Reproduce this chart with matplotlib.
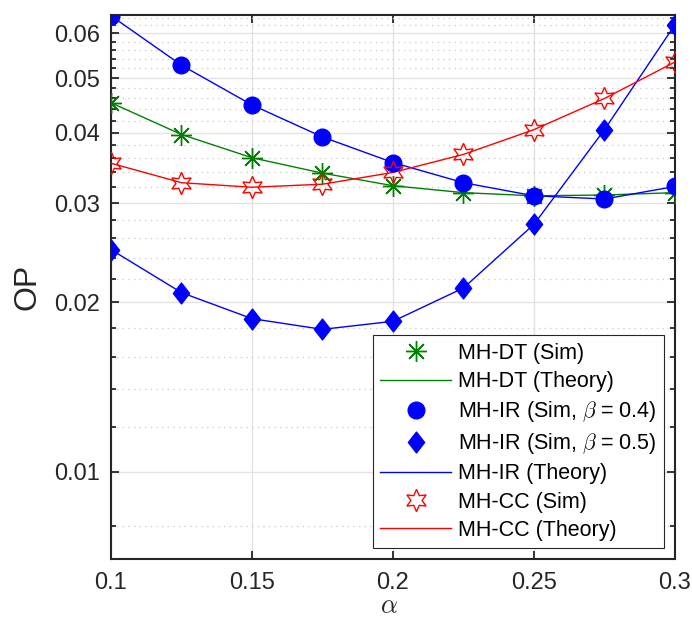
import numpy as np
import matplotlib.pyplot as plt
from matplotlib.path import Path
from matplotlib.ticker import FixedLocator, NullFormatter

plt.rcParams['font.family'] = ['Liberation Sans', 'DejaVu Sans']
plt.rcParams['mathtext.fontset'] = 'cm'

alpha = [0.1, 0.125, 0.15, 0.175, 0.2, 0.225, 0.25, 0.275, 0.3]

dt_sim = [0.0452, 0.0397, 0.0361, 0.0339, 0.0322, 0.0313, 0.0309, 0.0310, 0.0313]
dt_theory = [0.0452, 0.0397, 0.0361, 0.0339, 0.0322, 0.0313, 0.0309, 0.0310, 0.0313]

ir_sim_b04 = [0.0645, 0.0527, 0.0448, 0.0393, 0.0354, 0.0326, 0.0309, 0.0305, 0.0321]
ir_sim_b05 = [0.0248, 0.0208, 0.0187, 0.0179, 0.0185, 0.0212, 0.0275, 0.0405, 0.0622]
ir_theory_b04 = [0.0645, 0.0527, 0.0448, 0.0393, 0.0354, 0.0326, 0.0309, 0.0305, 0.0321]
ir_theory_b05 = [0.0248, 0.0208, 0.0187, 0.0179, 0.0185, 0.0212, 0.0275, 0.0405, 0.0622]

cc_sim = [0.0353, 0.0326, 0.0320, 0.0324, 0.0340, 0.0366, 0.0405, 0.0460, 0.0534]
cc_theory = [0.0353, 0.0326, 0.0320, 0.0324, 0.0340, 0.0366, 0.0405, 0.0460, 0.0534]

green = '#008000'
blue = '#0000ff'
red = '#ff0000'

# MATLAB style diamond (a bit narrower than a square)
diamond = Path([(0, 1), (0.78, 0), (0, -1), (-0.78, 0), (0, 1)],
               [Path.MOVETO, Path.LINETO, Path.LINETO, Path.LINETO, Path.CLOSEPOLY])

fig = plt.figure(figsize=(6.92, 6.21), dpi=100)
ax = fig.add_axes([0.1604, 0.0998, 0.815, 0.876])

ax.plot(alpha, dt_sim, linestyle='none', marker=(8, 2, 0), markersize=15,
        markeredgecolor=green, markeredgewidth=1.0, label='MH-DT (Sim)', zorder=4)
ax.plot(alpha, dt_theory, color=green, lw=1.0, label='MH-DT (Theory)', zorder=3)

ax.plot(alpha, ir_sim_b04, linestyle='none', marker='o', markersize=12,
        color=blue, label=r'MH-IR (Sim, $\beta$ = 0.4)', zorder=4)
ax.plot(alpha, ir_sim_b05, linestyle='none', marker=diamond, markersize=15,
        color=blue, label=r'MH-IR (Sim, $\beta$ = 0.5)', zorder=4)
ax.plot(alpha, ir_theory_b04, color=blue, lw=1.0, label='MH-IR (Theory)', zorder=3)
ax.plot(alpha, ir_theory_b05, color=blue, lw=1.0, zorder=3)

ax.plot(alpha, cc_sim, linestyle='none', marker=(6, 1, 0), markersize=16,
        markerfacecolor='none', markeredgecolor=red, markeredgewidth=1.0,
        label='MH-CC (Sim)', zorder=4)
ax.plot(alpha, cc_theory, color=red, lw=1.0, label='MH-CC (Theory)', zorder=3)

ax.set_yscale('log')
ax.set_xlim(0.1, 0.3)
ax.set_ylim(0.007, 0.0647)

ax.set_xticks([0.1, 0.15, 0.2, 0.25, 0.3])
ax.set_xticklabels(['0.1', '0.15', '0.2', '0.25', '0.3'])
yt = [0.01, 0.02, 0.03, 0.04, 0.05, 0.06]
ax.yaxis.set_major_locator(FixedLocator(yt))
ax.set_yticklabels(['0.01', '0.02', '0.03', '0.04', '0.05', '0.06'])
minor = [v for v in np.round(np.arange(0.008, 0.0645, 0.002), 3) if not np.any(np.isclose(v, yt))]
ax.yaxis.set_minor_locator(FixedLocator(minor))
ax.yaxis.set_minor_formatter(NullFormatter())
ax.xaxis.set_minor_locator(FixedLocator([]))

ax.grid(True, which='major', color='#e3e3e3', lw=1.0, linestyle='-')
ax.grid(True, which='minor', axis='y', color='#c8c8c8', lw=0.9, linestyle=(0, (1, 3.5)))
ax.set_axisbelow(True)

ax.tick_params(which='both', direction='in', top=True, right=True, colors='#262626',
               labelsize=17, width=1.3)
ax.tick_params(which='major', length=6)
ax.tick_params(which='minor', length=3.5)
ax.tick_params(axis='x', pad=9.5)
ax.tick_params(axis='y', pad=8)
for s in ax.spines.values():
    s.set_linewidth(1.5)
    s.set_color('#262626')

ax.set_ylabel('OP', fontsize=23, color='#262626', labelpad=8)
xl = ax.set_xlabel(r'$\alpha$', fontsize=19, color='#262626')
xl.set_va('baseline')
ax.xaxis.set_label_coords(0.492, -0.1)

leg = ax.legend(loc='lower right', bbox_to_anchor=(0.98, 0.02), borderaxespad=0,
                fontsize=15.5, fancybox=False, framealpha=1, edgecolor='#262626',
                handlelength=3.3, handletextpad=0.3, labelspacing=0.33, borderpad=0.35)
leg.get_frame().set_linewidth(0.8)
for t in leg.get_texts():
    t.set_color('black')

fig.savefig('out.png', dpi=100)
